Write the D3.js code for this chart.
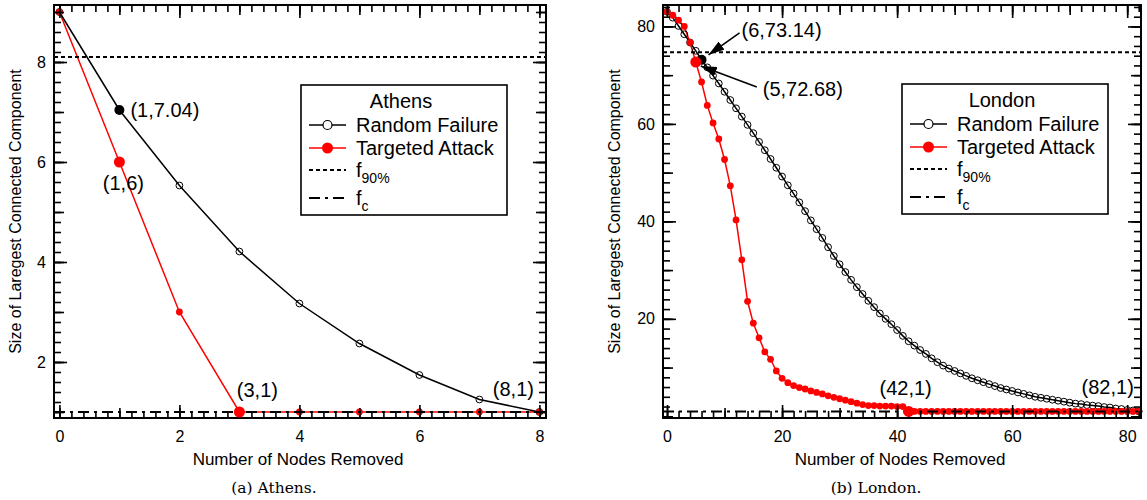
<!DOCTYPE html>
<html>
<head>
<meta charset="utf-8">
<script src="https://cdn.jsdelivr.net/npm/d3@7"></script>
<style>
  body { margin: 0; background: #fff; }
  text { font-family: "Liberation Sans", Arial, sans-serif; fill: #000; }
  .caption { font-family: "DejaVu Serif", serif; }
</style>
</head>
<body>
<svg id="chart" width="1147" height="500"></svg>
<script>
// ---- data ----
const athensRandom   = [9, 7.04, 5.53, 4.21, 3.17, 2.37, 1.74, 1.25, 1];
const athensTargeted = [9, 6, 3, 1, 1, 1, 1, 1, 1];
const athensF90 = 8.1, athensFc = 1;

const londonRandom = [
  83, 81.8, 80.1, 78.4, 76.7, 75.0, 73.14, 71.6, 69.9, 68.3,
  66.6, 64.9, 63.2, 61.5, 59.8, 58.1, 56.3, 54.6, 52.8, 51.0,
  49.2, 47.4, 45.7, 43.9, 42.1, 40.2, 38.4, 36.6, 34.7, 32.9,
  31.2, 29.6, 28.0, 26.5, 25.1, 23.7, 22.4, 21.1, 20.0, 18.9,
  17.7, 16.5, 15.4, 14.5, 13.6, 12.8, 11.9, 11.1, 10.4, 9.8,
  9.3, 8.8, 8.3, 7.8, 7.4, 7.0, 6.6, 6.2, 5.8, 5.5,
  5.2, 4.9, 4.6, 4.3, 4.0, 3.8, 3.6, 3.4, 3.2, 3.0,
  2.8, 2.6, 2.5, 2.3, 2.2, 2.1, 1.9, 1.8, 1.6, 1.5,
  1.3, 1.2, 1.0
];
const londonTargeted = [
  83, 82.3, 81.3, 80, 76.7, 72.68, 68.6, 63.8, 60.2, 56.9,
  52.7, 47.3, 40.3, 32.1, 23.6, 19.1, 16.1, 13.2, 11.7, 9.3,
  7.8, 6.9, 6.3, 5.9, 5.6, 5.2, 4.9, 4.6, 4.2, 3.9,
  3.6, 3.3, 3.0, 2.7, 2.4, 2.2, 2.2, 2.1, 2.1, 2.1,
  2.0, 2.0, 1, 1, 1, 1, 1, 1, 1, 1,
  1, 1, 1, 1, 1, 1, 1, 1, 1, 1,
  1, 1, 1, 1, 1, 1, 1, 1, 1, 1,
  1, 1, 1, 1, 1, 1, 1, 1, 1, 1,
  1, 1, 1
];
const londonF90 = 74.7, londonFc = 1;

const athensXTicks = [0, 2, 4, 6, 8];
const athensYTicks = [2, 4, 6, 8];
const londonXTicks = [0, 20, 40, 60, 80];
const londonYTicks = [20, 40, 60, 80];

const seriesNames = ['Random Failure', 'Targeted Attack'];
const yTitle = 'Size of Laregest Connected Component';
const xTitle = 'Number of Nodes Removed';

// annotations: point, label, series
const athensNotes = [
  {x: 1, y: 7.04, label: '(1,7.04)', series: 0, big: true, dx: 11, dy: 0, anchor: 'start'},
  {x: 1, y: 6, label: '(1,6)', series: 1, big: true, dx: 4, dy: 21, anchor: 'middle'},
  {x: 3, y: 1, label: '(3,1)', series: 1, big: true, dx: 18, dy: -22, anchor: 'middle'},
  {x: 8, y: 1, label: '(8,1)', series: 1, big: false, dx: -26, dy: -23, anchor: 'middle'}
];
const londonNotes = [
  {x: 6, y: 73.14, label: '(6,73.14)', series: 0, big: true, dx: 40, dy: -30, anchor: 'start',
    arrow: [[38, -27], [7, -5]]},
  {x: 5, y: 72.68, label: '(5,72.68)', series: 1, big: true, dx: 67, dy: 27, anchor: 'start',
    arrow: [[61, 25], [5, 4]]},
  {x: 42, y: 1, label: '(42,1)', series: 1, big: true, dx: -3, dy: -23, anchor: 'middle'},
  {x: 82, y: 1, label: '(82,1)', series: 1, big: false, dx: -31, dy: -24, anchor: 'middle'}
];

const panels = [
  {
    name: 'Athens', caption: '(a) Athens.',
    left: 54, right: 546, top: 5, bottom: 418,
    xDomain: [-0.09, 8.11], yDomain: [0.88, 9.14],
    xTicks: athensXTicks, yTicks: athensYTicks, mid: 1, minor: 0.2,
    random: athensRandom, targeted: athensTargeted, f90: athensF90, fc: athensFc,
    notes: athensNotes, legendX: 301, legendY: 85, yTitleX: 21
  },
  {
    name: 'London', caption: '(b) London.',
    left: 663, right: 1141, top: 5, bottom: 418,
    xDomain: [-0.7, 82.4], yDomain: [-0.35, 84.4],
    xTicks: londonXTicks, yTicks: londonYTicks, mid: 10, minor: 2,
    random: londonRandom, targeted: londonTargeted, f90: londonF90, fc: londonFc,
    notes: londonNotes, legendX: 902, legendY: 84, yTitleX: 620
  }
];

const svg = d3.select('#chart');
const defs = svg.append('defs');
defs.append('marker')
  .attr('id', 'arrowhead')
  .attr('viewBox', '0 0 16 10')
  .attr('refX', 16).attr('refY', 5)
  .attr('markerWidth', 16).attr('markerHeight', 10)
  .attr('markerUnits', 'userSpaceOnUse')
  .attr('orient', 'auto')
  .append('path')
  .attr('d', 'M0,0L16,5L0,10Z')
  .attr('fill', '#000');

function stepRange (lo, hi, step) {
  let out = [];
  let start = Math.ceil(lo / step - 1e-9);
  for (let k = start; k * step <= hi + 1e-9; k++) out.push(+(k * step).toFixed(6));
  return out;
}

function drawPanel (p) {
  let g = svg.append('g');
  let x = d3.scaleLinear().domain(p.xDomain).range([p.left, p.right]);
  let y = d3.scaleLinear().domain(p.yDomain).range([p.bottom, p.top]);
  let line = d3.line().x((d, i) => x(i)).y(d => y(d));

  // curves
  g.append('path').datum(p.targeted)
    .attr('d', line).attr('fill', 'none').attr('stroke', '#ff0000').attr('stroke-width', 1.5);
  g.append('path').datum(p.random)
    .attr('d', line).attr('fill', 'none').attr('stroke', '#000').attr('stroke-width', 1.5);

  g.selectAll('circle.rand').data(p.random).enter()
    .append('circle').attr('class', 'rand')
    .attr('cx', (d, i) => x(i)).attr('cy', d => y(d)).attr('r', 3.4)
    .attr('fill', 'none').attr('stroke', '#000').attr('stroke-width', 1);
  g.selectAll('circle.targ').data(p.targeted).enter()
    .append('circle').attr('class', 'targ')
    .attr('cx', (d, i) => x(i)).attr('cy', d => y(d)).attr('r', 3.4)
    .attr('fill', '#ff0000');

  // threshold lines
  g.append('line')
    .attr('x1', p.left).attr('x2', p.right).attr('y1', y(p.f90)).attr('y2', y(p.f90))
    .attr('stroke', '#000').attr('stroke-width', 2).attr('stroke-dasharray', '4,3');
  g.append('line')
    .attr('x1', p.left).attr('x2', p.right).attr('y1', y(p.fc)).attr('y2', y(p.fc))
    .attr('stroke', '#000').attr('stroke-width', 2).attr('stroke-dasharray', '11,5,3,5');

  // axes: three tick levels on all four sides
  let levels = [
    {vals: stepRange(p.xDomain[0], p.xDomain[1], p.minor), yv: stepRange(p.yDomain[0], p.yDomain[1], p.minor), size: 7},
    {vals: stepRange(p.xDomain[0], p.xDomain[1], p.mid), yv: stepRange(p.yDomain[0], p.yDomain[1], p.mid), size: 10},
    {vals: p.xTicks, yv: p.yTicks, size: 13}
  ];
  levels.forEach((lv, li) => {
    let labelled = li === 2;
    let b = g.append('g').attr('transform', 'translate(0,' + p.bottom + ')')
      .call(d3.axisBottom(x).tickValues(lv.vals).tickSize(-lv.size).tickPadding(13)
        .tickFormat(labelled ? d3.format('d') : ''));
    let t = g.append('g').attr('transform', 'translate(0,' + p.top + ')')
      .call(d3.axisTop(x).tickValues(lv.vals).tickSize(-lv.size).tickFormat(''));
    let l = g.append('g').attr('transform', 'translate(' + p.left + ',0)')
      .call(d3.axisLeft(y).tickValues(lv.yv).tickSize(-lv.size).tickPadding(8)
        .tickFormat(labelled ? d3.format('d') : ''));
    let r = g.append('g').attr('transform', 'translate(' + p.right + ',0)')
      .call(d3.axisRight(y).tickValues(lv.yv).tickSize(-lv.size).tickFormat(''));
    [b, t, l, r].forEach(a => {
      a.select('.domain').remove();
      a.selectAll('.tick line').attr('stroke', '#000').attr('stroke-width', 1.6);
      a.selectAll('.tick text')
        .style('font-family', '"Liberation Sans", Arial, sans-serif')
        .style('font-size', '16px').attr('fill', '#000');
    });
  });

  g.append('rect')
    .attr('x', p.left).attr('y', p.top)
    .attr('width', p.right - p.left).attr('height', p.bottom - p.top)
    .attr('fill', 'none').attr('stroke', '#000').attr('stroke-width', 2);

  // annotations
  p.notes.forEach(n => {
    let px = x(n.x), py = y(n.y);
    if(n.big) {
      g.append('circle').attr('cx', px).attr('cy', py).attr('r', n.series ? 5.5 : 5)
        .attr('fill', n.series ? '#ff0000' : '#000');
    }
    g.append('text')
      .attr('x', px + n.dx).attr('y', py + n.dy).attr('dy', '0.35em')
      .attr('text-anchor', n.anchor)
      .style('font-size', '20px')
      .text(n.label);
    if(n.arrow) {
      g.append('line')
        .attr('x1', px + n.arrow[0][0]).attr('y1', py + n.arrow[0][1])
        .attr('x2', px + n.arrow[1][0]).attr('y2', py + n.arrow[1][1])
        .attr('stroke', '#000').attr('stroke-width', 1.6)
        .attr('marker-end', 'url(#arrowhead)');
    }
  });

  // titles
  let cx = (p.left + p.right) / 2;
  g.append('text').attr('x', cx - 2).attr('y', 465).attr('text-anchor', 'middle')
    .style('font-size', '17px').text(xTitle);
  g.append('text')
    .attr('transform', 'translate(' + p.yTitleX + ',' + ((p.top + p.bottom) / 2) + ') rotate(-90)')
    .attr('text-anchor', 'middle').style('font-size', '16px').text(yTitle);
  g.append('text').attr('class', 'caption').attr('x', cx - 26).attr('y', 493)
    .attr('text-anchor', 'middle').style('font-size', '15.5px').text(p.caption);

  // legend
  let lg = g.append('g').attr('transform', 'translate(' + p.legendX + ',' + p.legendY + ')');
  lg.append('rect').attr('width', 206).attr('height', 130)
    .attr('fill', '#fff').attr('stroke', '#000').attr('stroke-width', 1.6);
  lg.append('text').attr('x', 100).attr('y', 16).attr('dy', '0.35em')
    .attr('text-anchor', 'middle').style('font-size', '20px').text(p.name);
  let rows = [
    {yy: 40, color: '#000', dash: null, mark: 'open', label: seriesNames[0]},
    {yy: 63, color: '#ff0000', dash: null, mark: 'filled', label: seriesNames[1]},
    {yy: 85, color: '#000', dash: '4,3', mark: null, label: 'f', sub: '90%'},
    {yy: 113, color: '#000', dash: '11,5,3,5', mark: null, label: 'f', sub: 'c'}
  ];
  rows.forEach(row => {
    lg.append('line').attr('x1', 8).attr('x2', 45).attr('y1', row.yy).attr('y2', row.yy)
      .attr('stroke', row.color).attr('stroke-width', row.dash ? 2 : 1.5)
      .attr('stroke-dasharray', row.dash);
    if(row.mark === 'open') {
      lg.append('circle').attr('cx', 26.5).attr('cy', row.yy).attr('r', 4.5)
        .attr('fill', '#fff').attr('stroke', '#000').attr('stroke-width', 1.2);
    } else if(row.mark === 'filled') {
      lg.append('circle').attr('cx', 26.5).attr('cy', row.yy).attr('r', 5.5).attr('fill', '#ff0000');
    }
    let t = lg.append('text').attr('x', 55).attr('y', row.yy + 7).style('font-size', '20px');
    t.append('tspan').text(row.label);
    if(row.sub) {
      t.append('tspan').attr('dy', 6).style('font-size', '14px').text(row.sub);
    }
  });
}

panels.forEach(drawPanel);
</script>
</body>
</html>
